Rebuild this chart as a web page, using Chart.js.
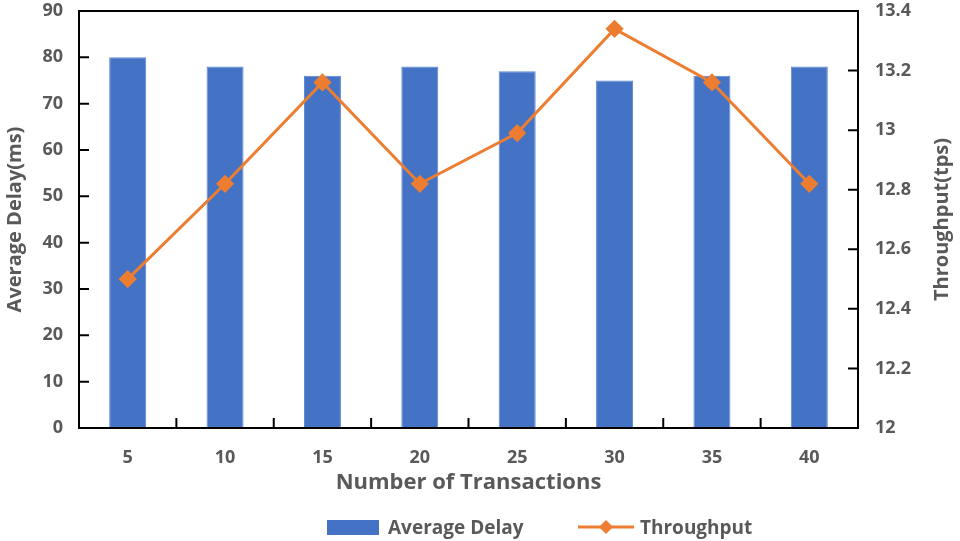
<!DOCTYPE html>
<html>
<head>
<meta charset="utf-8">
<script src="https://cdn.jsdelivr.net/npm/chart.js@4.4.1/dist/chart.umd.min.js"></script>
<style>
  html, body { margin: 0; padding: 0; background: #fff; }
  #wrap { position: relative; width: 960px; height: 541px; }
  #legend { position: absolute; top: 514px; left: 0; width: 960px; height: 26px;
            font-family: "Open Sans", sans-serif; font-weight: bold; font-size: 19px; color: #595959; }
  .item { position: absolute; top: 0; height: 26px; line-height: 26px; white-space: nowrap; }
</style>
</head>
<body>
<div id="wrap">
  <canvas id="grafica"></canvas>
  <div id="legend">
    <div class="item" style="left:327px;">
      <span style="position:absolute;left:0;top:6px;width:52px;height:15px;background:#4472C4;"></span>
      <span style="position:absolute;left:61px;">Average Delay</span>
    </div>
    <div class="item" style="left:578px;">
      <svg style="position:absolute;left:0;top:3px;" width="56" height="20">
        <line x1="0" y1="10" x2="56" y2="10" stroke="#ED7D31" stroke-width="3"/>
        <polygon points="28,3 35,10 28,17 21,10" fill="#ED7D31"/>
      </svg>
      <span style="position:absolute;left:62px;">Throughput</span>
    </div>
  </div>
</div>
<script>
// Datos de la gráfica
const categorias = ['5', '10', '15', '20', '25', '30', '35', '40'];
const retardo = [80, 78, 76, 78, 77, 75, 76, 78];            // Average Delay (ms)
const rendimiento = [12.5, 12.82, 13.16, 12.82, 12.99, 13.34, 13.16, 12.82]; // Throughput (tps)

const gris = '#595959';
const fuente = { family: '"Open Sans", sans-serif', weight: 'bold', size: 18 };

// Marco del área y marcas hacia dentro, como en Excel
const marco = {
    id: 'marco',
    afterDraw(chart) {
        const { ctx, chartArea: a, scales } = chart;
        ctx.save();
        ctx.strokeStyle = '#000';
        ctx.lineWidth = 2;
        ctx.strokeRect(a.left, a.top, a.right - a.left, a.bottom - a.top);
        ctx.beginPath();
        scales.y.ticks.forEach((t, i) => {
            const y = scales.y.getPixelForTick(i);
            ctx.moveTo(a.left, y); ctx.lineTo(a.left + 10, y);
        });
        scales.y2.ticks.forEach((t, i) => {
            const y = scales.y2.getPixelForTick(i);
            ctx.moveTo(a.right, y); ctx.lineTo(a.right - 10, y);
        });
        for (let i = 0; i < categorias.length - 1; i++) {
            const x = (scales.x.getPixelForTick(i) + scales.x.getPixelForTick(i + 1)) / 2;
            ctx.moveTo(x, a.bottom); ctx.lineTo(x, a.bottom - 10);
        }
        ctx.stroke();
        // Título del eje derecho, leído de abajo hacia arriba
        ctx.fillStyle = gris;
        ctx.font = 'bold 20px "Open Sans", sans-serif';
        ctx.textAlign = 'center';
        ctx.textBaseline = 'middle';
        ctx.translate(942, (a.top + a.bottom) / 2);
        ctx.rotate(-Math.PI / 2);
        ctx.fillText('Throughput(tps)', 0, 0);
        ctx.restore();
    }
};

const ctx = document.getElementById('grafica').getContext('2d');
new Chart(ctx, {
    data: {
        labels: categorias,
        datasets: [{
            type: 'line',
            label: 'Throughput',
            data: rendimiento,
            yAxisID: 'y2',
            borderColor: '#ED7D31',
            backgroundColor: '#ED7D31',
            borderWidth: 3,
            pointStyle: 'rectRot',
            pointRadius: 7,
            pointHoverRadius: 7,
            tension: 0,
            order: 0
        }, {
            type: 'bar',
            label: 'Average Delay',
            data: retardo,
            yAxisID: 'y',
            backgroundColor: '#4472C4',
            borderColor: '#5B86D0',
            borderWidth: 1,
            categoryPercentage: 0.76,
            barPercentage: 0.5,
            order: 1
        }]
    },
    options: {
        responsive: true,
        maintainAspectRatio: false,
        animation: false,
        devicePixelRatio: 1,
        layout: { padding: { top: 11, left: 0, right: 0, bottom: 0 } },
        plugins: { legend: { display: false }, tooltip: { enabled: false } },
        scales: {
            x: {
                offset: true,
                grid: { display: false, drawTicks: false },
                border: { display: false },
                ticks: { color: gris, font: fuente, padding: 19, maxRotation: 0 },
                title: { display: true, text: 'Number of Transactions', color: gris,
                         font: { family: fuente.family, weight: 'bold', size: 22 },
                         padding: { top: 0, bottom: 45 } },
                afterFit(s) { s.height = 113; s.paddingLeft = 0; s.paddingRight = 0; }
            },
            y: {
                position: 'left',
                min: 0, max: 90,
                ticks: { stepSize: 10, color: gris, font: fuente, padding: 16 },
                grid: { display: false, drawTicks: false },
                border: { display: false },
                title: { display: true, text: 'Average Delay(ms)', color: gris,
                         font: { family: fuente.family, weight: 'bold', size: 20 },
                         padding: { top: 3, bottom: 0 } },
                afterFit(s) { s.width = 79; s.paddingTop = 0; s.paddingBottom = 0; }
            },
            y2: {
                position: 'right',
                min: 12, max: 13.4,
                ticks: { stepSize: 0.2, color: gris, font: fuente, padding: 17,
                         callback: v => String(Number(v.toFixed(1))) },
                grid: { display: false, drawTicks: false },
                border: { display: false },
                afterFit(s) { s.width = 102; s.paddingTop = 0; s.paddingBottom = 0; }
            }
        }
    },
    plugins: [marco]
});
</script>
</body>
</html>
